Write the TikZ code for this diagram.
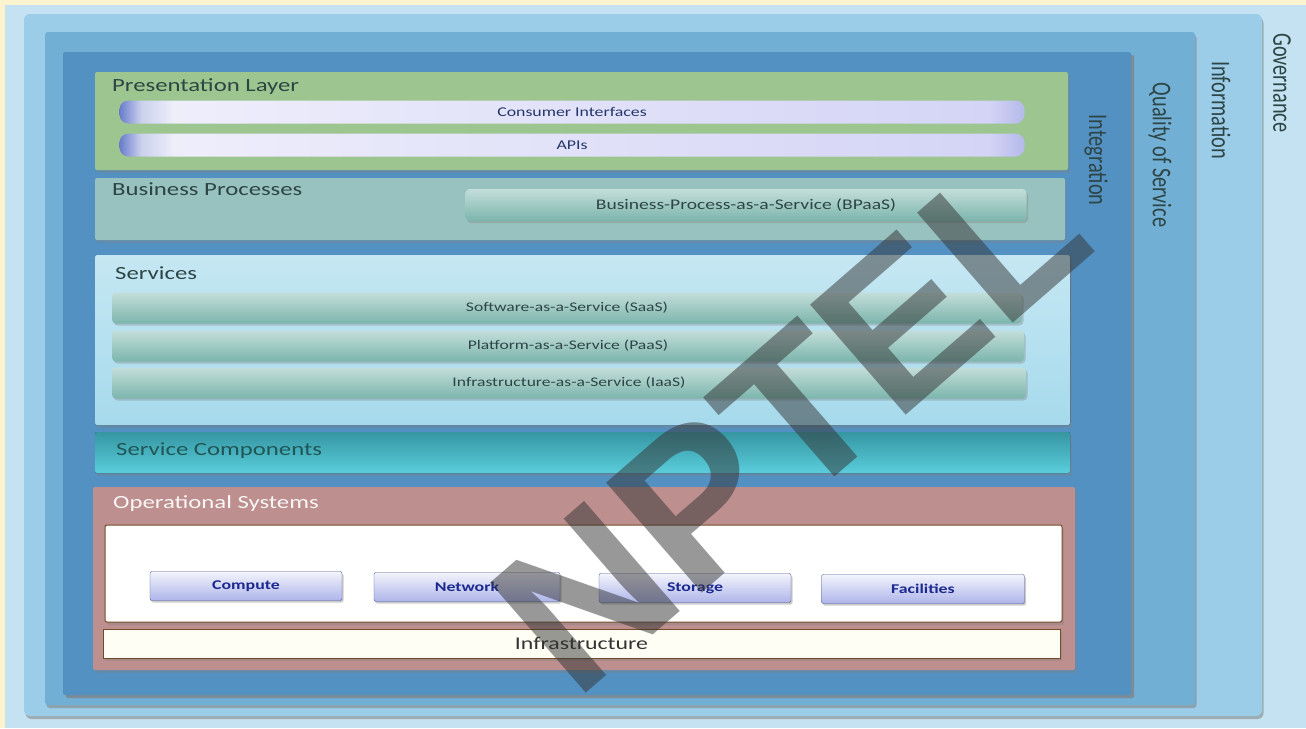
\documentclass[tikz,border=0pt]{standalone}
\usepackage{graphicx}
\usepackage{fontspec}
\setmainfont{Carlito}[FakeStretch=1.33]
\newfontfamily\plainfont{Carlito}
\newfontfamily\markfont{Liberation Sans}
\usetikzlibrary{shadows}

\definecolor{cream}{HTML}{FBF3D0}
\definecolor{govblue}{HTML}{C4E2F2}
\definecolor{infoblue}{HTML}{9BCCE8}
\definecolor{qosblue}{HTML}{71AFD5}
\definecolor{intblue}{HTML}{5391C3}
\definecolor{presgreen}{HTML}{9CC58F}
\definecolor{bizgrey}{HTML}{98C2BF}
\definecolor{svcblue}{HTML}{A6DAEC}
\definecolor{compcyan}{HTML}{48C8D8}
\definecolor{oprose}{HTML}{BD8F8F}
\definecolor{barteal}{HTML}{7BB5AC}
\definecolor{lav}{HTML}{D4D4F6}
\definecolor{capblue}{HTML}{6A7CCB}
\definecolor{unitblue}{HTML}{AEB5EA}
\definecolor{textdark}{HTML}{2E4545}

% pill bars of the presentation layer
\pgfdeclarehorizontalshading{pillshade}{100bp}{color(0bp)=(capblue); color(25bp)=(capblue);
  color(26.2bp)=(capblue!35!white); color(28bp)=(lav!40!white); color(73bp)=(lav);
  color(75bp)=(lav!70!capblue); color(100bp)=(lav!70!capblue)}

\begin{document}
\begin{tikzpicture}[x=1pt, y=-1pt,
    frame/.style={drop shadow={shadow xshift=1.5pt, shadow yshift=-3pt, opacity=.55}},
    layer/.style={rounded corners=2pt, drop shadow={shadow xshift=2pt, shadow yshift=-3pt, opacity=.35}},
    lbl/.style={anchor=west, inner sep=0pt, text=textdark, font=\fontsize{18.6}{20}\selectfont},
    sidelbl/.style={rotate=-90, inner sep=0pt, text=textdark, font=\plainfont\fontsize{20.3}{22}\selectfont},
    pill/.style={shading=pillshade, rounded corners=9pt, minimum width=905pt, minimum height=23pt,
      inner sep=0pt, text=textdark!80!blue, font=\fontsize{13.4}{14}\selectfont},
    bar/.style={rounded corners=4pt, minimum height=31pt, inner sep=0pt, top color=barteal!45!white,
      bottom color=barteal, text=textdark, font=\fontsize{13.2}{14}\selectfont,
      drop shadow={shadow xshift=1.5pt, shadow yshift=-2pt, opacity=.35}},
    unit/.style={draw=capblue!70!black, rounded corners=2pt, minimum height=29pt, inner sep=0pt,
      top color=white!85!unitblue, bottom color=unitblue, text=textdark!60!blue,
      font=\bfseries\fontsize{13.4}{14}\selectfont,
      drop shadow={shadow xshift=1.5pt, shadow yshift=-2pt, opacity=.4}}]

    % Background and outer frames
    \fill[cream] (0,0) rectangle (1306,728);
    \fill[govblue] (5,5) rectangle (1306,728);
    \fill[infoblue, rounded corners=6pt, frame] (24,14) rectangle (1262,716);
    \fill[qosblue, rounded corners=3pt, frame] (45,32) rectangle (1195,705);
    \fill[intblue, rounded corners=2pt, drop shadow={shadow xshift=3pt, shadow yshift=-3pt, opacity=.75}]
        (63,52) rectangle (1131,695);

    % Side labels
    \node[sidelbl] (gov) at (1282,83) {\scalebox{1}[1.33]{Governance}};
    \node[sidelbl] (info) at (1221,110) {\scalebox{1}[1.33]{Information}};
    \node[sidelbl] (qos) at (1160,155) {\scalebox{1}[1.33]{Quality of Service}};
    \node[sidelbl] (integ) at (1096,160) {\scalebox{1}[1.33]{Integration}};

    % Presentation Layer
    \fill[presgreen, layer] (95,72) rectangle (1068,170);
    \node[lbl] (pres) at (112,87) {Presentation Layer};
    \node[pill] (ci) at (572,112) {Consumer Interfaces};
    \node[pill] (api) at (572,145) {APIs};

    % Business Processes
    \fill[bizgrey, layer] (95,178) rectangle (1065,240);
    \node[lbl] (biz) at (112,189) {Business Processes};
    \node[bar, minimum width=561pt, minimum height=32pt, font=\fontsize{14.7}{16}\selectfont]
        (bpaas) at (746,205) {Business-Process-as-a-Service (BPaaS)};

    % Services
    \fill[layer, top color=white!35!svcblue, bottom color=svcblue] (95,255) rectangle (1070,425);
    \node[lbl] (svc) at (115,273) {Services};
    \node[bar, minimum width=910pt] (saas) at (567,308) {Software-as-a-Service (SaaS)};
    \node[bar, minimum width=912pt] (paas) at (568,346) {Platform-as-a-Service (PaaS)};
    \node[bar, minimum width=914pt] (iaas) at (569,383) {Infrastructure-as-a-Service (IaaS)};

    % Service Components
    \fill[layer, top color=compcyan!75!black, bottom color=compcyan!90!white] (95,432) rectangle (1070,473);
    \node[lbl, text=textdark!70!teal] (scomp) at (116,451) {Service Components};

    % Operational Systems
    \fill[oprose, layer] (93,487) rectangle (1075,670);
    \node[lbl, text=white!92!oprose] (ops) at (113,504) {Operational Systems};
    \filldraw[fill=white, draw=brown!60!black, line width=1pt, layer] (105,525) rectangle (1062,622);
    \node[unit, minimum width=192pt] (cpu) at (246,586) {Compute};
    \node[unit, minimum width=186pt] (net) at (467,587) {Network};
    \node[unit, minimum width=192pt] (sto) at (695,588) {Storage};
    \node[unit, minimum width=203pt] (fac) at (923,589) {Facilities};
    \node[draw=brown!60!black, line width=1pt, fill=white!96!yellow, minimum width=957pt, minimum height=29pt,
        inner sep=0pt, text=black!80, font=\fontsize{17.9}{19}\selectfont, layer, rounded corners=0pt]
        (infra) at (581.5,643.5) {Infrastructure};

    % Watermark
    \node[rotate=41, text=black!80, opacity=.5, inner sep=0pt,
        font=\markfont\bfseries\fontsize{212}{212}\selectfont] (mark) at (790,420) {NPTEL};

\end{tikzpicture}
\end{document}
